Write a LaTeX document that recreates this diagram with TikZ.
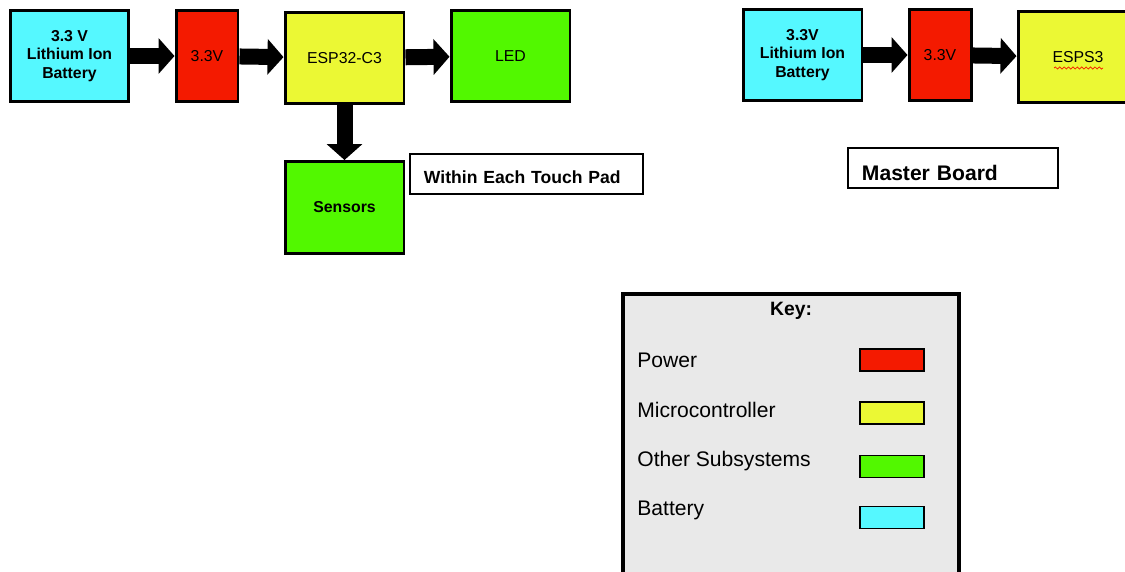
\documentclass[tikz,border=0pt]{standalone}
\usepackage{fontspec}
\setmainfont{Liberation Sans}
\usetikzlibrary{arrows.meta,decorations.pathmorphing}
\definecolor{battcyan}{RGB}{85,248,255}
\definecolor{pwrred}{RGB}{244,26,0}
\definecolor{mcuyellow}{RGB}{235,248,52}
\definecolor{subgreen}{RGB}{82,248,0}
\definecolor{keygray}{RGB}{233,233,233}
\begin{document}
\begin{tikzpicture}[
        x=0.02cm, y=-0.02cm,
        block/.style={draw, line width=1.7pt, minimum width=2.38cm, minimum height=1.84cm,
          inner sep=0pt, align=center, font=\fontsize{9}{10.5}\selectfont},
        narrow/.style={block, minimum width=1.24cm},
        flow/.style={line width=0.32cm, -{Triangle[width=0.7cm,length=0.32cm]}},
        tag/.style={draw, line width=1.1pt, inner xsep=0.28cm, inner ysep=0pt,
          minimum height=0.8cm, anchor=west, align=left, text depth=0pt, font=\bfseries},
        swatch/.style={draw, fill=#1, line width=0.8pt, minimum width=1.28cm,
          minimum height=0.44cm, inner sep=0pt},
        keytext/.style={anchor=west, inner sep=0pt, font=\fontsize{12}{14}\selectfont}
      ]
        \useasboundingbox (0,0) rectangle (1125,571);
        \node[block, fill=battcyan, font=\fontsize{9}{10.5}\selectfont\bfseries] (bat1) at (69.5,56) {3.3 V\\Lithium Ion\\Battery};
        \node[narrow, fill=pwrred] (pwr1) at (207,56) {3.3V};
        \node[block, fill=mcuyellow] (mcu1) at (344.5,58) {ESP32-C3};
        \node[block, fill=subgreen] (led) at (510.5,56) {LED};
        \node[block, fill=subgreen, font=\fontsize{9}{10.5}\selectfont\bfseries] (sens) at (344.5,207.5) {Sensors};
        \node[tag, text width=4.1cm, text height=0.4cm, font=\fontsize{10}{12}\selectfont\bfseries] (touch) at (409,174) {Within Each Touch Pad};
        \draw[flow] (bat1) -- (pwr1);
        \draw[flow] (pwr1) -- (mcu1);
        \draw[flow] (mcu1) -- (led);
        \draw[flow] (mcu1) -- (sens);

        \node[block, fill=battcyan, font=\fontsize{9}{10.5}\selectfont\bfseries] (bat2) at (802.5,55) {3.3V\\Lithium Ion\\Battery};
        \node[narrow, fill=pwrred] (pwr2) at (940,55) {3.3V};
        \node[block, fill=mcuyellow, minimum width=2.4cm] (mcu2) at (1078,57) {ESPS3};
        \draw[pwrred, line width=0.4pt, decorate, decoration={snake, amplitude=0.6pt, segment length=2.5pt}]
          ([shift={(-24,11)}]mcu2.center) -- ++(49,0);
        \node[tag, text width=3.64cm, text height=0.5cm, font=\fontsize{12}{14}\selectfont\bfseries] (master) at (847,168) {Master Board};
        \draw[flow] (bat2) -- (pwr2);
        \draw[flow] (pwr2) -- (mcu2);

        \draw[line width=1.8pt, fill=keygray] (623,294) rectangle (959,600);
        \node[font=\fontsize{11}{13}\selectfont\bfseries] (keytitle) at (791,311) {Key:};
        \node[keytext] (kpow) at (637,360) {Power};
        \node[swatch=pwrred] (spow) at (892,360) {};
        \node[keytext] (kmcu) at (637,410) {Microcontroller};
        \node[swatch=mcuyellow] (smcu) at (892,413) {};
        \node[keytext] (ksub) at (637,461) {Other Subsystems};
        \node[swatch=subgreen] (ssub) at (892,466.5) {};
        \node[keytext] (kbat) at (637,510) {Battery};
        \node[swatch=battcyan] (sbat) at (892,517.5) {};
      \end{tikzpicture}
\end{document}
